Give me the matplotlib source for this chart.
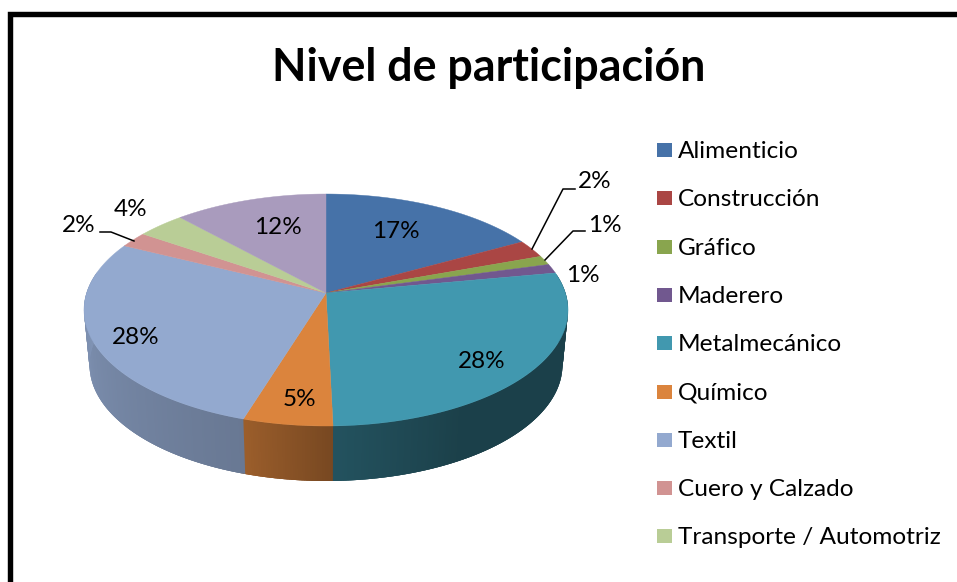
import numpy as np
import matplotlib
matplotlib.use("Agg")
import matplotlib.pyplot as plt
from matplotlib.patches import Rectangle

plt.rcParams['font.family'] = ['Lato', 'DejaVu Sans']

# data
sectors = ["Alimenticio", "Construcción", "Gráfico", "Maderero", "Metalmecánico",
           "Químico", "Textil", "Cuero y Calzado", "Transporte / Automotriz", "Otros"]
shares = [17.0, 2.5, 1.3, 1.3, 27.5, 5.2, 27.5, 2.2, 3.7, 11.8]
colors = ["#4672A8", "#AA4644", "#89A54E", "#71588F", "#4198AF",
          "#DB843D", "#93A9CF", "#D19392", "#B9CD96", "#A99BBD"]
legend_rows = sectors[:9]  # the last row is cut off in the picture

# where each percentage label sits (pixels)
label_pos = [(396, 232), (595, 182), (605, 225), (583, 275), (482, 362),
             (299, 400), (136, 338), (79, 226), (131, 210), (278, 228)]

fig = plt.figure(figsize=(9.57, 5.82), dpi=100)
ax = fig.add_axes([0, 0, 1, 1])
ax.set_xlim(0, 957)
ax.set_ylim(582, 0)
ax.axis("off")

# frame, cut by the right and bottom edge
ax.plot([9.5, 9.5, 960], [590, 13.5, 13.5], color="black", lw=3.9, solid_joinstyle="miter")

ax.text(489, 68, "Nivel de participación", ha="center", va="center",
        fontsize=32.2, fontweight="bold", color="black")

# pie in perspective
cx, cy = 326, 293
a, b, k = 239.4, 113.5, 0.1466
depth = 55


def project(t):
    # t is the clockwise angle from the top, in degrees
    x = np.sin(np.radians(t))
    y = np.cos(np.radians(t))
    w = 1 + k * y
    return a * x / w, b * y / w


def shade(t):
    return np.interp(t, [90, 150, 178, 197, 270], [0.42, 0.42, 0.54, 0.71, 0.87])


edges = np.cumsum([0] + shares) / sum(shares) * 360

# side wall, each strip runs under the next one so no seams show
for i in range(len(shares)):
    t0 = max(edges[i], 80)
    t1 = min(edges[i + 1], 280)
    if t1 <= t0:
        continue
    steps = np.linspace(t0, t1, max(2, int((t1 - t0) * 2)))
    rgb = np.array(matplotlib.colors.to_rgb(colors[i]))
    for s0, s1 in zip(steps[:-1], steps[1:]):
        x0, y0 = project(s0)
        x1, y1 = project(s1 + 1)
        c = rgb * shade((s0 + s1) / 2)
        ax.fill([cx + x0, cx + x1, cx + x1 * 0.977, cx + x0 * 0.977],
                [cy - y0, cy - y1, cy - y1 + depth, cy - y0 + depth],
                color=c, lw=0)

# top of the pie
for i in range(len(shares)):
    x, y = project(np.linspace(edges[i], edges[i + 1], 120))
    ax.fill(np.r_[cx, cx + x], np.r_[cy, cy - y], color=colors[i], lw=0.3, zorder=3)

for share, (lx, ly) in zip(shares, label_pos):
    ax.text(lx, ly, f"{share:.0f}%", ha="center", va="center", fontsize=17.5, color="black", zorder=5)

# leader lines
ax.plot([532, 563, 575], [249, 189, 189], color="black", lw=1.1, zorder=4)
ax.plot([545, 573, 585], [260, 231, 231], color="black", lw=1.1, zorder=4)
ax.plot([100, 111, 134], [232, 232, 241], color="black", lw=1.1, zorder=4)

# legend
for i, name in enumerate(legend_rows):
    yy = 150 + i * 48.3
    ax.add_patch(Rectangle((657, yy - 7), 15, 14, color=colors[i], lw=0))
    ax.text(678, yy + 1.5, name, ha="left", va="center", fontsize=17.6, color="black")

fig.savefig("out.png", dpi=100)
